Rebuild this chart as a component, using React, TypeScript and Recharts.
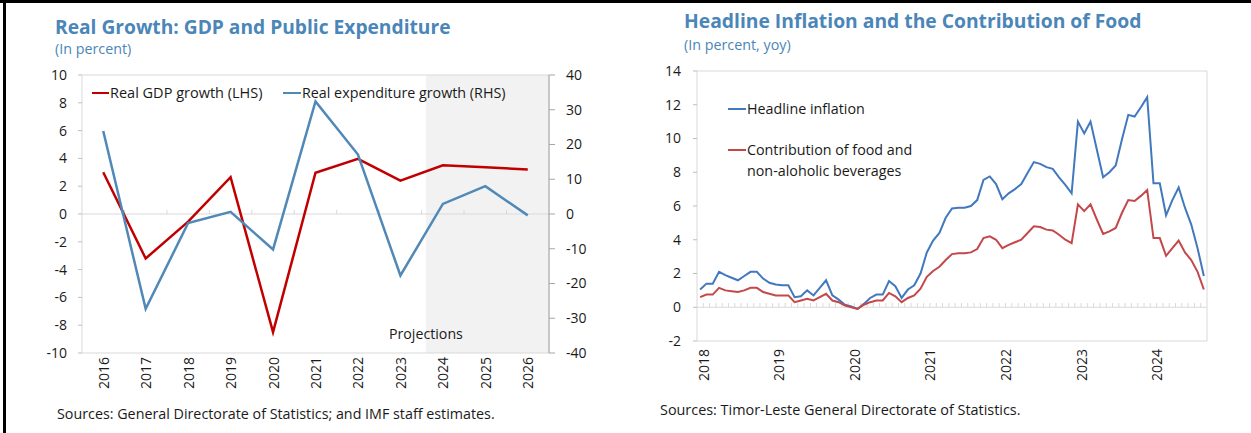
import React from 'react';
import { LineChart, Line, XAxis, YAxis, ReferenceArea, ReferenceLine } from 'recharts';

const FONT = '"Open Sans", "Noto Sans", sans-serif';
const TITLE_COLOR = '#4A86B8';
const TEXT_COLOR = '#1a1a1a';

// ---------- Left chart: Real Growth ----------
const growthYears = [2016, 2017, 2018, 2019, 2020, 2021, 2022, 2023, 2024, 2025, 2026];
const realGdpGrowth = [3.0, -3.2, -0.55, 2.65, -8.5, 2.97, 3.97, 2.4, 3.5, 3.36, 3.2];
const realExpenditureGrowth = [23.9, -27.3, -2.6, 0.6, -10.2, 32.4, 17.1, -17.7, 2.9, 8.0, -0.4];
const lhsTicks = [-10, -8, -6, -4, -2, 0, 2, 4, 6, 8, 10];
const rhsTicks = [-40, -30, -20, -10, 0, 10, 20, 30, 40];
const projectionStart = 2023.6;

// ---------- Right chart: Inflation ----------
const inflationYears = ['2018', '2019', '2020', '2021', '2022', '2023', '2024'];
const headlineInflation = [
  1.05, 1.4, 1.4, 2.1, 1.9, 1.75, 1.6, 1.85, 2.1, 2.1, 1.7, 1.45,
  1.35, 1.3, 1.3, 0.6, 0.65, 1.0, 0.7, 1.15, 1.6, 0.7, 0.45, 0.15,
  0.05, -0.1, 0.2, 0.55, 0.75, 0.75, 1.55, 1.25, 0.55, 1.05, 1.3, 2.0,
  3.25, 3.95, 4.4, 5.3, 5.85, 5.9, 5.9, 6.0, 6.35, 7.55, 7.75, 7.3,
  6.4, 6.75, 7.0, 7.3, 7.95, 8.6, 8.5, 8.3, 8.2, 7.7, 7.25, 6.75,
  11.0, 10.3, 11.0, 9.35, 7.7, 8.0, 8.4, 9.95, 11.4, 11.3, 11.85, 12.45,
  7.35, 7.35, 5.45, 6.35, 7.1, 5.9, 4.9, 3.5, 1.85,
];
const foodContribution = [
  0.6, 0.75, 0.75, 1.15, 1.0, 0.95, 0.9, 1.0, 1.15, 1.15, 0.9, 0.8,
  0.7, 0.7, 0.7, 0.3, 0.4, 0.5, 0.4, 0.6, 0.8, 0.4, 0.3, 0.1,
  0.0, -0.1, 0.15, 0.3, 0.4, 0.4, 0.85, 0.65, 0.3, 0.55, 0.7, 1.1,
  1.8, 2.15, 2.4, 2.8, 3.15, 3.2, 3.2, 3.25, 3.45, 4.1, 4.2, 4.0,
  3.5, 3.7, 3.85, 4.0, 4.4, 4.8, 4.75, 4.6, 4.55, 4.3, 4.0, 3.8,
  6.1, 5.7, 6.1, 5.2, 4.35, 4.5, 4.7, 5.6, 6.35, 6.3, 6.6, 6.95,
  4.1, 4.1, 3.05, 3.5, 3.95, 3.25, 2.8, 2.1, 1.05,
];
const inflationTicks = [-2, 0, 2, 4, 6, 8, 10, 12, 14];

// ---------- derived tables ----------
const growthData = growthYears.map((year, i) => ({
  year,
  gdp: realGdpGrowth[i],
  exp: realExpenditureGrowth[i],
}));
const growthBoundaries = growthYears.slice(1).map((y) => y - 0.5);
const growthDomain: [number, number] = [growthYears[0] - 0.5, growthYears[growthYears.length - 1] + 0.5];

const inflationData = headlineInflation.map((v, i) => ({
  idx: i,
  month: `${Number(inflationYears[0]) + Math.floor(i / 12)}-${String((i % 12) + 1).padStart(2, '0')}`,
  headline: v,
  food: foodContribution[i],
}));
const nMonths = headlineInflation.length;
const inflationDomain: [number, number] = [-0.5, nMonths - 0.5];
const monthBoundaries = inflationData.slice(1).map((d) => d.idx - 0.5);
const yearTickPositions = inflationYears.map((_, k) => k * 12 + 0.5);

const RotTick = (props: any) => {
  const { x, y, payload, labelOf } = props;
  const label = labelOf ? labelOf(payload.value) : String(payload.value);
  return (
    <text
      x={x}
      y={y}
      transform={`rotate(-90 ${x} ${y})`}
      textAnchor="end"
      dominantBaseline="central"
      fontFamily={FONT}
      fontSize={14}
      fill={TEXT_COLOR}
    >
      {label}
    </text>
  );
};

const Txt = ({ x, cy, size, color = TEXT_COLOR, weight = 400, children }: any) => (
  <div
    style={{
      position: 'absolute',
      left: x,
      top: cy - size * 0.7,
      lineHeight: `${size * 1.4}px`,
      fontSize: size,
      fontFamily: FONT,
      fontWeight: weight,
      color,
      whiteSpace: 'nowrap',
    }}
  >
    {children}
  </div>
);

const Dash = ({ x1, x2, y, color, h = 2.5 }: any) => (
  <div style={{ position: 'absolute', left: x1, top: y - h / 2, width: x2 - x1, height: h, background: color }} />
);

const tickStyle = { fill: TEXT_COLOR, fontSize: 14, fontFamily: FONT };

const GDP_RED = '#C00000';
const EXP_BLUE = '#5089B8';
const INF_BLUE = '#4178BE';
const FOOD_RED = '#C4484A';

export default function App() {
  return (
    <div style={{ position: 'absolute', left: 0, top: 0, width: 1251, height: 433, background: '#fff', overflow: 'hidden' }}>
      {/* frame lines */}
      <div style={{ position: 'absolute', left: 0, top: 0, width: 1251, height: 3, background: '#000' }} />
      <div style={{ position: 'absolute', left: 3, top: 0, width: 3, height: 433, background: '#000' }} />

      {/* Left chart */}
      <Txt x={55} cy={27} size={19.2} color={TITLE_COLOR} weight={700}>Real Growth: GDP and Public Expenditure</Txt>
      <Txt x={55} cy={49} size={14.3} color={TITLE_COLOR}>(In percent)</Txt>
      <div style={{ position: 'absolute', left: 0, top: 0 }}>
        <LineChart width={620} height={403} data={growthData} margin={{ top: 75, right: 31, bottom: 0, left: 42 }}>
          <XAxis
            xAxisId="x"
            dataKey="year"
            type="number"
            domain={growthDomain}
            ticks={growthYears}
            interval={0}
            allowDataOverflow
            height={50}
            tickSize={0}
            tickMargin={4}
            tickLine={false}
            axisLine={false}
            tick={(p: any) => <RotTick {...p} />}
          />
          <YAxis
            yAxisId="lhs"
            domain={[-10, 10]}
            ticks={lhsTicks}
            interval={0}
            width={40}
            tickSize={4}
            tickMargin={11}
            axisLine={false}
            tickLine={{ stroke: '#bfbfbf' }}
            tick={tickStyle}
          />
          <YAxis
            yAxisId="rhs"
            orientation="right"
            domain={[-40, 40]}
            ticks={rhsTicks}
            interval={0}
            width={40}
            tickSize={6}
            tickMargin={11}
            axisLine={{ stroke: '#a6a6a6' }}
            tickLine={{ stroke: '#a6a6a6' }}
            tick={tickStyle}
          />
          <ReferenceArea xAxisId="x" yAxisId="lhs" x1={projectionStart} x2={growthDomain[1]} y1={-10} y2={10} fill="#f2f2f2" fillOpacity={1} stroke="none" />
          <ReferenceArea xAxisId="x" yAxisId="lhs" x1={growthDomain[0]} x2={growthDomain[1]} y1={-10} y2={10} fill="none" fillOpacity={0} stroke="#d9d9d9" strokeWidth={1} />
          <ReferenceLine xAxisId="x" yAxisId="lhs" y={0} stroke="#d9d9d9" strokeWidth={1.2} />
          {growthBoundaries.map((b) => (
            <ReferenceLine key={b} xAxisId="x" yAxisId="lhs" segment={[{ x: b, y: 0 }, { x: b, y: 0.3 }]} stroke="#d9d9d9" />
          ))}
          <Line xAxisId="x" yAxisId="lhs" dataKey="gdp" stroke={GDP_RED} strokeWidth={2.5} dot={false} isAnimationActive={false} />
          <Line xAxisId="x" yAxisId="rhs" dataKey="exp" stroke={EXP_BLUE} strokeWidth={2.5} dot={false} isAnimationActive={false} />
        </LineChart>
      </div>
      <Dash x1={92} x2={109} y={93} color={GDP_RED} />
      <Txt x={110} cy={93} size={14.5}>Real GDP growth (LHS)</Txt>
      <Dash x1={283} x2={301} y={93} color={EXP_BLUE} />
      <Txt x={302} cy={93} size={14.3}>Real expenditure growth (RHS)</Txt>
      <Txt x={389} cy={334} size={14.2}>Projections</Txt>
      <Txt x={57} cy={414} size={14.3}>Sources: General Directorate of Statistics; and IMF staff estimates.</Txt>

      {/* Right chart */}
      <Txt x={684} cy={21} size={19.3} color={TITLE_COLOR} weight={700}>Headline Inflation and the Contribution of Food</Txt>
      <Txt x={684} cy={45} size={14.3} color={TITLE_COLOR}>(In percent, yoy)</Txt>
      <div style={{ position: 'absolute', left: 640, top: 0 }}>
        <LineChart width={600} height={391} data={inflationData} margin={{ top: 71, right: 33, bottom: 0, left: 17 }}>
          <XAxis
            xAxisId="m"
            dataKey="idx"
            type="number"
            domain={inflationDomain}
            ticks={yearTickPositions}
            interval={0}
            allowDataOverflow
            height={50}
            tickSize={0}
            tickMargin={8}
            tickLine={false}
            axisLine={false}
            tick={(p: any) => (
              <RotTick {...p} labelOf={(v: number) => inflationYears[Math.round((v - 0.5) / 12)]} />
            )}
          />
          <YAxis
            yAxisId="v"
            domain={[-2, 14]}
            ticks={inflationTicks}
            interval={0}
            width={40}
            tickSize={4}
            tickMargin={12}
            axisLine={false}
            tickLine={{ stroke: '#bfbfbf' }}
            tick={tickStyle}
          />
          <ReferenceArea xAxisId="m" yAxisId="v" x1={inflationDomain[0]} x2={inflationDomain[1]} y1={-2} y2={14} fill="none" fillOpacity={0} stroke="#d9d9d9" strokeWidth={1} />
          <ReferenceLine xAxisId="m" yAxisId="v" y={0} stroke="#d9d9d9" strokeWidth={1.2} />
          {monthBoundaries.map((b) => (
            <ReferenceLine key={b} xAxisId="m" yAxisId="v" segment={[{ x: b, y: 0 }, { x: b, y: 0.25 }]} stroke="#d9d9d9" />
          ))}
          <Line xAxisId="m" yAxisId="v" dataKey="headline" stroke={INF_BLUE} strokeWidth={2} dot={false} isAnimationActive={false} />
          <Line xAxisId="m" yAxisId="v" dataKey="food" stroke={FOOD_RED} strokeWidth={2} dot={false} isAnimationActive={false} />
        </LineChart>
      </div>
      <Dash x1={728} x2={746} y={109} color={INF_BLUE} h={2} />
      <Txt x={747} cy={109} size={14.3}>Headline inflation</Txt>
      <Dash x1={728} x2={746} y={150} color={FOOD_RED} h={2} />
      <Txt x={747} cy={150} size={14.3}>Contribution of food and</Txt>
      <Txt x={747} cy={171} size={14.3}>non-aloholic beverages</Txt>
      <Txt x={660} cy={410} size={14.4}>Sources: Timor-Leste General Directorate of Statistics.</Txt>
    </div>
  );
}
